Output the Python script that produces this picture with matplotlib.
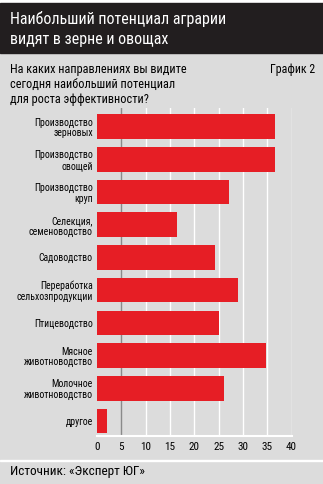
import matplotlib
matplotlib.use("Agg")
import matplotlib.pyplot as plt
from matplotlib.patches import Rectangle
from matplotlib import font_manager as fm

categories = ["Производство\nзерновых", "Производство\nовощей", "Производство\nкруп",
              "Селекция,\nсеменоводство", "Садоводство", "Переработка\nсельхозпродукции",
              "Птицеводство", "Мясное\nживотноводство", "Молочное\nживотноводство", "другое"]
values = [36.6, 36.6, 27.2, 16.4, 24.3, 29.0, 25.1, 34.8, 26.1, 2.0]
xticks = [0, 5, 10, 15, 20, 25, 30, 35, 40]

title = "Наибольший потенциал аграрии\nвидят в зерне и овощах"
subtitle = "На каких направлениях вы видите\nсегодня наибольший потенциал\nдля роста эффективности?"
chart_no = "График 2"
source = "Источник: «Эксперт ЮГ»"


def find_condensed():
    cands = []
    for f in fm.fontManager.ttflist:
        name = f.name.lower()
        fname = f.fname.lower()
        narrow = ("narrow" in name or "condensed" in name or "narrow" in fname
                  or "condensed" in fname or str(f.stretch) in ("condensed", "semi-condensed", "extra-condensed"))
        if narrow and f.style == "normal" and f.weight in (400, "normal", "regular"):
            score = 0
            if "liberation" in name:
                score = 3
            elif "roboto" in name:
                score = 2
            elif "dejavu sans" in name and "mono" not in name:
                score = 1
            if "mono" in name or "serif" in fname.replace("sans", ""):
                score -= 5
            cands.append((score, f.fname))
    cands.sort(reverse=True)
    if cands and cands[0][0] >= 0:
        return fm.FontProperties(fname=cands[0][1])
    return fm.FontProperties(family="DejaVu Sans", stretch="condensed")


BASE = find_condensed()


def fp(size):
    p = BASE.copy()
    p.set_size(size)
    return p


W, H = 323, 484
BG = "#dcdcdc"
RED = "#e61e25"
DARK = "#221e1f"

fig = plt.figure(figsize=(W / 100, H / 100), dpi=100, facecolor=BG)


def fy(y):
    return 1 - y / H


def fx(x):
    return x / W


fig.patches.append(Rectangle((0, fy(3)), 1, 3 / H, transform=fig.transFigure, color="white", zorder=0))
fig.patches.append(Rectangle((0, fy(53)), 1, 50 / H, transform=fig.transFigure, color=DARK, zorder=0))
fig.patches.append(Rectangle((0, fy(461)), 1, 1.5 / H, transform=fig.transFigure, color="white", zorder=0))

fig.text(fx(10), fy(29), title, color="white", fontproperties=fp(11.5), va="center", ha="left",
         linespacing=1.35)
fig.text(fx(10), fy(84), subtitle, color="black", fontproperties=fp(8.8), va="center", ha="left",
         linespacing=1.2)
fig.text(fx(315), fy(70), chart_no, color="black", fontproperties=fp(8.6), va="center", ha="right")
fig.text(fx(10), fy(472), source, color="black", fontproperties=fp(9.5), va="center", ha="left")

ax = fig.add_axes([fx(97), fy(436), fx(291.5) - fx(97), (436 - 108) / H])
ax.set_facecolor(BG)
ypos = list(range(len(categories)))
ax.barh(ypos, values, height=0.75, color=RED, zorder=3)
ax.set_xlim(0, 40)
ax.set_ylim(9.46, -0.57)
ax.set_yticks(ypos)
ax.set_yticklabels(categories, fontproperties=fp(7), linespacing=1.1)
ax.set_xticks(xticks)
ax.set_xticklabels([str(t) for t in xticks], fontproperties=fp(8))
ax.tick_params(axis="both", length=0)
ax.tick_params(axis="y", pad=3)
ax.tick_params(axis="x", pad=4)
for t in xticks[1:]:
    ax.axvline(t, color="#8a8a8a" if t == 5 else "white", lw=1.0, zorder=1)
for s in ["top", "right", "left"]:
    ax.spines[s].set_visible(False)
ax.spines["bottom"].set_color("white")
ax.spines["bottom"].set_linewidth(1.5)

fig.savefig("out.png", dpi=100, facecolor=BG)
